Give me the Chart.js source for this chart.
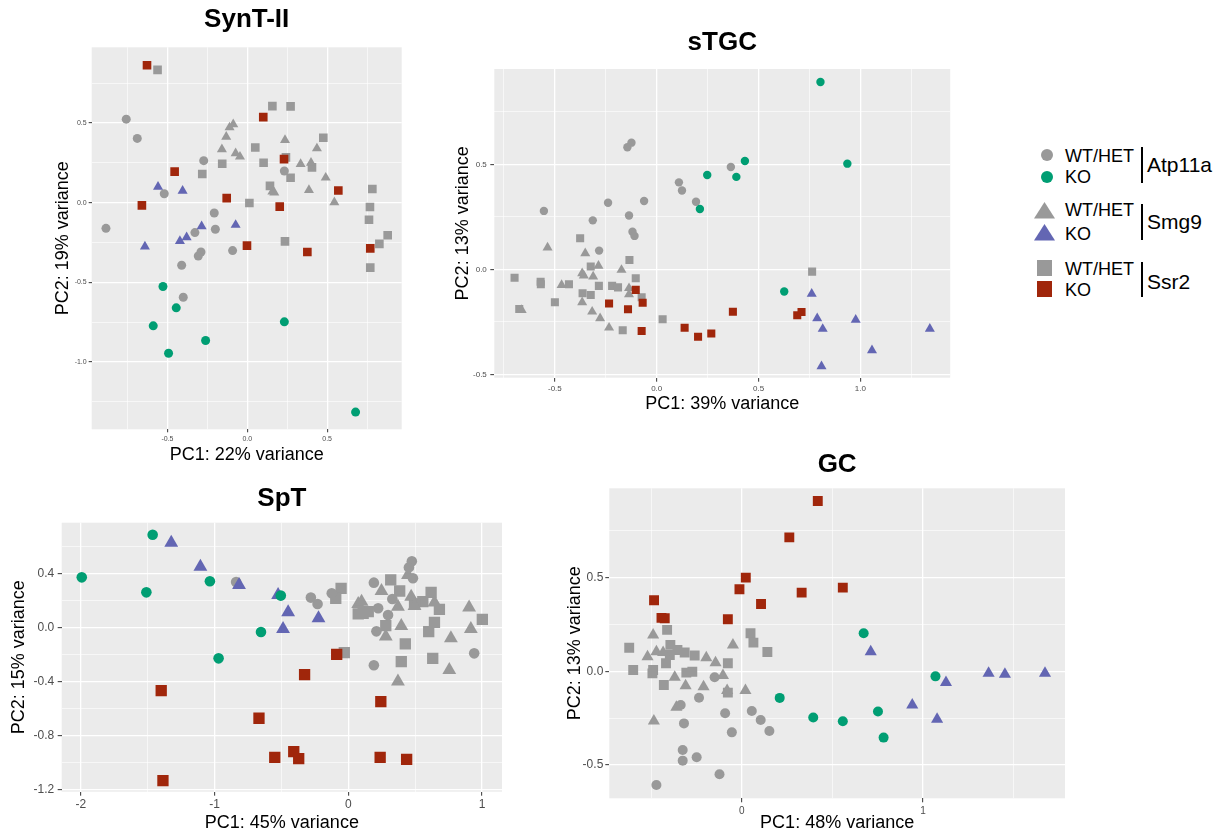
<!DOCTYPE html>
<html lang="en">
<head>
<meta charset="UTF-8">
<title>PCA by cell type</title>
<script src="https://cdn.jsdelivr.net/npm/chart.js@4.4.6/dist/chart.umd.min.js"></script>
<style>
  body { margin: 0; background: #fff; font-family: "Liberation Sans", Arial, sans-serif; }
  #page { position: relative; width: 1226px; height: 834px; overflow: hidden; }
  canvas { position: absolute; }
  .lg { position: absolute; }
  .dot { position: absolute; border-radius: 50%; }
  .sq { position: absolute; }
  .bar { position: absolute; width: 2px; background: #000; }
  .lt { position: absolute; font-size: 18px; line-height: 18px; color: #000; white-space: nowrap; }
  .gene { position: absolute; font-size: 21px; line-height: 21px; color: #000; white-space: nowrap; }
</style>
</head>
<body>
<div id="page">
  <canvas id="c1" width="360" height="470" style="left:48px;top:0px"></canvas>
  <canvas id="c2" width="508" height="419" style="left:448px;top:0px"></canvas>
  <canvas id="c3" width="506" height="364" style="left:4px;top:470px"></canvas>
  <canvas id="c4" width="512" height="394" style="left:560px;top:440px"></canvas>

  <!-- legend -->
  <span class="dot" style="left:1040.7px;top:149px;width:12px;height:12px;background:#999999"></span>
  <span class="dot" style="left:1040.7px;top:170.7px;width:12px;height:12px;background:#009e73"></span>
  <svg class="lg" style="left:1034px;top:201.7px" width="21" height="17"><polygon points="10.5,0 21,16.6 0,16.6" fill="#999999"/></svg>
  <svg class="lg" style="left:1034px;top:224.3px" width="21" height="17"><polygon points="10.5,0 21,16.6 0,16.6" fill="#6366b3"/></svg>
  <span class="sq" style="left:1036.7px;top:260px;width:15.6px;height:15.6px;background:#999999"></span>
  <span class="sq" style="left:1036.7px;top:281.4px;width:15.6px;height:15.6px;background:#a0260b"></span>

  <span class="lt" style="left:1065px;top:146.5px">WT/HET</span>
  <span class="lt" style="left:1065px;top:168px">KO</span>
  <span class="lt" style="left:1065px;top:200.8px">WT/HET</span>
  <span class="lt" style="left:1065px;top:224.8px">KO</span>
  <span class="lt" style="left:1065px;top:259.8px">WT/HET</span>
  <span class="lt" style="left:1065px;top:280.5px">KO</span>

  <span class="bar" style="left:1141px;top:146.7px;height:36.6px"></span>
  <span class="bar" style="left:1141px;top:204px;height:36px"></span>
  <span class="bar" style="left:1141px;top:261.7px;height:35px"></span>

  <span class="gene" style="left:1147px;top:154.2px">Atp11a</span>
  <span class="gene" style="left:1147px;top:211.2px">Smg9</span>
  <span class="gene" style="left:1147px;top:270.5px">Ssr2</span>
</div>

<script>
// ---- data: [PC1, PC2] per sample ----

// SynT-II
const syntWtCirc = [[-0.758,0.525],[-0.689,0.404],[-0.885,-0.161],[-0.520,0.056],[-0.273,0.264],[-0.207,-0.065],[-0.328,-0.188],[-0.200,-0.167],[-0.290,-0.310],[-0.307,-0.335],[-0.411,-0.393],[-0.401,-0.594],[-0.092,-0.301],[0.232,0.199]];
const syntKoCirc = [[-0.528,-0.527],[-0.445,-0.661],[-0.589,-0.774],[-0.261,-0.866],[-0.493,-0.946],[0.232,-0.749],[0.678,-1.316]];
const syntWtTri = [[-0.088,0.492],[-0.111,0.473],[-0.132,0.414],[-0.159,0.335],[-0.073,0.310],[-0.046,0.289],[0.236,0.393],[0.334,0.243],[0.399,0.251],[0.436,0.341],[0.491,0.157],[0.386,0.079],[0.545,0.002],[0.157,0.069],[0.169,0.063]];
const syntKoTri = [[-0.559,0.100],[-0.405,0.075],[-0.286,-0.149],[-0.073,-0.140],[-0.422,-0.241],[-0.380,-0.218],[-0.641,-0.276]];
const syntWtSq = [[-0.562,0.835],[0.157,0.607],[0.271,0.605],[0.050,0.347],[-0.157,0.245],[-0.282,0.180],[0.102,0.251],[0.242,0.285],[0.271,0.157],[0.405,0.222],[0.142,0.106],[0.476,0.408],[0.013,-0.002],[0.236,-0.243],[0.783,0.086],[0.768,-0.027],[0.762,-0.107],[0.827,-0.259],[0.879,-0.205],[0.770,-0.408]];
const syntKoSq = [[-0.628,0.864],[0.100,0.538],[0.230,0.274],[-0.455,0.195],[-0.129,0.029],[-0.660,-0.017],[0.203,-0.025],[0.570,0.077],[-0.002,-0.270],[0.376,-0.310],[0.770,-0.287]];

// sTGC
const stgcWtCirc = [[-0.124,0.603],[-0.144,0.581],[-0.554,0.278],[-0.239,0.317],[-0.314,0.233],[-0.136,0.256],[-0.119,0.179],[-0.109,0.159],[-0.062,0.325],[-0.283,0.089],[0.109,0.414],[0.124,0.375],[0.193,0.322],[0.364,0.487]];
const stgcKoCirc = [[0.804,0.892],[0.936,0.503],[0.433,0.516],[0.248,0.449],[0.391,0.440],[0.212,0.287],[0.626,-0.106]];
const stgcWtTri = [[-0.536,0.103],[-0.351,0.076],[-0.286,0.017],[-0.366,-0.019],[-0.358,-0.030],[-0.312,-0.035],[-0.467,-0.075],[-0.173,-0.003],[-0.136,-0.090],[-0.136,-0.119],[-0.366,-0.157],[-0.317,-0.202],[-0.278,-0.233],[-0.234,-0.278],[-0.663,-0.194]];
const stgcKoTri = [[0.761,-0.117],[0.788,-0.233],[0.815,-0.284],[0.977,-0.241],[1.341,-0.283],[1.057,-0.386],[0.809,-0.462]];
const stgcWtSq = [[-0.698,-0.040],[-0.570,-0.059],[-0.569,-0.071],[-0.431,-0.071],[-0.376,0.148],[-0.324,0.013],[-0.364,-0.114],[-0.324,-0.122],[-0.284,-0.079],[-0.500,-0.157],[-0.675,-0.189],[-0.219,-0.079],[-0.190,-0.086],[-0.134,0.044],[-0.103,-0.043],[-0.074,-0.133],[-0.167,-0.290],[0.029,-0.238],[0.763,-0.011]];
const stgcKoSq = [[-0.103,-0.098],[-0.234,-0.163],[-0.141,-0.190],[-0.069,-0.159],[-0.074,-0.294],[0.137,-0.278],[0.203,-0.321],[0.268,-0.306],[0.374,-0.202],[0.690,-0.219],[0.711,-0.203]];

// SpT
const sptWtCirc = [[-0.839,0.336],[-0.280,0.220],[-0.230,0.173],[-0.124,0.252],[0.191,0.331],[0.210,-0.030],[0.191,-0.281],[0.475,0.489],[0.453,0.444],[0.483,0.363],[0.329,0.210],[0.941,-0.193],[0.223,0.141],[0.297,0.091]];
const sptKoCirc = [[-1.993,0.370],[-1.463,0.686],[-1.510,0.259],[-1.035,0.341],[-0.505,0.235],[-0.653,-0.035],[-0.970,-0.230]];
const sptWtTri = [[0.074,0.173],[0.248,0.269],[0.280,-0.069],[0.396,0.010],[0.470,0.227],[0.371,0.153],[0.495,0.158],[0.644,0.183],[0.903,0.146],[0.916,-0.012],[0.767,-0.081],[0.755,-0.316],[0.371,-0.402],[0.446,0.388],[0.099,0.190]];
const sptKoTri = [[-1.324,0.627],[-1.106,0.449],[-0.817,0.314],[-0.525,0.240],[-0.450,0.111],[-0.223,0.067],[-0.488,-0.012]];
const sptWtSq = [[-0.054,0.289],[-0.094,0.215],[-0.030,-0.188],[0.317,0.351],[0.384,0.269],[0.074,0.099],[0.149,0.116],[0.280,0.012],[0.557,0.190],[0.619,0.259],[0.681,0.133],[0.644,0.037],[0.601,-0.032],[0.426,-0.123],[0.396,-0.254],[0.631,-0.230],[1.002,0.059],[0.111,0.104],[0.495,0.173]];
const sptKoSq = [[-1.399,-0.469],[-1.386,-1.136],[-0.668,-0.674],[-0.550,-0.963],[-0.408,-0.921],[-0.371,-0.973],[-0.327,-0.351],[-0.087,-0.200],[0.243,-0.551],[0.238,-0.963],[0.436,-0.978]];

// GC
const gcWtCirc = [[-0.150,-0.032],[-0.236,-0.141],[-0.337,-0.180],[-0.319,-0.278],[-0.092,-0.224],[-0.055,-0.326],[0.055,-0.212],[0.104,-0.260],[0.152,-0.319],[-0.326,-0.420],[-0.326,-0.477],[-0.249,-0.459],[-0.123,-0.550],[-0.471,-0.607]];
const gcKoCirc = [[0.672,0.203],[1.068,-0.027],[0.209,-0.142],[0.394,-0.247],[0.557,-0.267],[0.751,-0.215],[0.782,-0.354]];
const gcWtTri = [[-0.489,0.194],[-0.471,0.105],[-0.520,0.078],[-0.196,0.073],[-0.145,0.046],[-0.370,-0.032],[-0.310,-0.077],[-0.211,-0.082],[-0.104,-0.023],[-0.081,-0.103],[0.020,-0.103],[-0.049,0.141],[-0.361,-0.192],[-0.485,-0.265],[-0.434,0.100]];
const gcKoTri = [[0.711,0.105],[1.361,-0.011],[1.451,-0.016],[1.672,-0.011],[1.126,-0.060],[0.940,-0.180],[1.077,-0.256]];
const gcWtSq = [[-0.621,0.126],[-0.599,0.007],[-0.412,0.221],[-0.489,0.007],[-0.493,-0.011],[-0.394,0.141],[-0.355,0.114],[-0.418,0.043],[-0.315,0.100],[-0.260,0.084],[-0.430,-0.073],[-0.306,-0.007],[-0.273,-0.002],[-0.077,0.043],[-0.077,-0.114],[0.048,0.203],[0.064,0.153],[0.141,0.103],[-0.397,0.087]];
const gcKoSq = [[0.419,0.909],[0.262,0.715],[0.022,0.500],[-0.013,0.438],[0.330,0.420],[0.557,0.447],[0.106,0.359],[-0.077,0.278],[-0.484,0.379],[-0.443,0.285],[-0.425,0.283]];

// ---- styling ----
const FONT = '"Liberation Sans", Arial, sans-serif';
const GRAY = '#999999', GREEN = '#009e73', BLUE = '#6366b3', RED = '#a0260b';

const isMajor = (v, major) => Math.abs(v / major - Math.round(v / major)) < 1e-6;

// fill the panel grey like ggplot
const panelBg = {
  id: 'panelBg',
  beforeDraw(chart) {
    const { ctx, chartArea: a } = chart;
    ctx.save();
    ctx.fillStyle = '#ebebeb';
    ctx.fillRect(a.left, a.top, a.right - a.left, a.bottom - a.top);
    ctx.restore();
  }
};

function axis(a, horizontal) {
  return {
    type: 'linear',
    position: horizontal ? 'bottom' : 'left',
    min: a.min,
    max: a.max,
    afterFit: s => { if (horizontal) s.height = a.size; else s.width = a.size; },
    border: { display: false },
    grid: {
      color: '#ffffff',
      lineWidth: c => (c.tick && isMajor(c.tick.value, a.major)) ? 1.3 : 0.6,
      tickColor: c => (c.tick && isMajor(c.tick.value, a.major)) ? '#333333' : 'rgba(0,0,0,0)',
      tickWidth: 1,
      tickLength: a.tickLen
    },
    ticks: {
      stepSize: a.minor,
      includeBounds: false,
      autoSkip: false,
      maxRotation: 0,
      minRotation: 0,
      padding: a.pad,
      color: '#4d4d4d',
      font: { family: FONT, size: a.font },
      callback: v => isMajor(v, a.major) ? (Math.abs(v) < 1e-9 ? 0 : v).toFixed(a.dec) : ''
    },
    title: {
      display: true,
      text: a.title,
      color: '#000000',
      font: { family: FONT, size: 18 },
      padding: { top: 4, bottom: a.titlePadBottom }
    }
  };
}

function groups(wtC, koC, wtT, koT, wtS, koS, r) {
  const g = (pts, shape, color, rad, order) => ({
    data: pts.map(p => ({ x: p[0], y: p[1] })),
    pointStyle: shape,
    pointRadius: rad,
    pointHoverRadius: rad,
    pointBorderWidth: 0,
    backgroundColor: color,
    borderColor: color,
    order: order
  });
  return [
    g(wtC, 'circle', GRAY, r.circle, 2),
    g(wtT, 'triangle', GRAY, r.tri, 2),
    g(wtS, 'rect', GRAY, r.rect, 2),
    g(koC, 'circle', GREEN, r.circle, 1),
    g(koT, 'triangle', BLUE, r.tri, 1),
    g(koS, 'rect', RED, r.rect, 1)
  ];
}

function makePanel(id, p, datasets) {
  new Chart(document.getElementById(id), {
    type: 'scatter',
    data: { datasets: datasets },
    options: {
      responsive: false,
      animation: false,
      layout: { padding: { right: p.padRight } },
      plugins: {
        legend: { display: false },
        tooltip: { enabled: false },
        title: {
          display: true,
          text: p.title,
          fullSize: false,
          color: '#000000',
          font: { family: FONT, size: 26, weight: 'bold' },
          padding: { top: p.titleTop, bottom: p.titleBottom }
        }
      },
      scales: { x: axis(p.x, true), y: axis(p.y, false) }
    },
    plugins: [panelBg]
  });
}

makePanel('c1', {
  title: 'SynT-II', titleTop: 4.4, titleBottom: 11.7, padRight: 6.3,
  x: { min: -0.9743, max: 0.9668, minor: 0.25, major: 0.5, dec: 1, size: 40.7, tickLen: 3, pad: 2.2, font: 7, title: 'PC1: 22% variance', titlePadBottom: 4 },
  y: { min: -1.4243, max: 0.9767, minor: 0.25, major: 0.5, dec: 1, size: 43.7, tickLen: 3, pad: 2, font: 7, title: 'PC2: 19% variance', titlePadBottom: 4 }
}, groups(syntWtCirc, syntKoCirc, syntWtTri, syntKoTri, syntWtSq, syntKoSq, { circle: 4.5, tri: 5.8, rect: 6.1 }));

makePanel('c2', {
  title: 'sTGC', titleTop: 27.4, titleBottom: 10.4, padRight: 5,
  x: { min: -0.7975, max: 1.441, minor: 0.25, major: 0.5, dec: 1, size: 41.3, tickLen: 4, pad: 2.2, font: 8, title: 'PC1: 39% variance', titlePadBottom: 4 },
  y: { min: -0.5162, max: 0.9538, minor: 0.25, major: 0.5, dec: 1, size: 46.3, tickLen: 4, pad: 3.5, font: 8, title: 'PC2: 13% variance', titlePadBottom: 4 }
}, groups(stgcWtCirc, stgcKoCirc, stgcWtTri, stgcKoTri, stgcWtSq, stgcKoSq, { circle: 4.2, tri: 5.8, rect: 5.7 }));

makePanel('c3', {
  title: 'SpT', titleTop: 13.2, titleBottom: 8.3, padRight: 5,
  x: { min: -2.143, max: 1.149, minor: 0.5, major: 1, dec: 0, size: 42.3, tickLen: 4, pad: 2, font: 12, title: 'PC1: 45% variance', titlePadBottom: 0 },
  y: { min: -1.218, max: 0.775, minor: 0.2, major: 0.4, dec: 1, size: 57.7, tickLen: 4, pad: 3.5, font: 12, title: 'PC2: 15% variance', titlePadBottom: 4 }
}, groups(sptWtCirc, sptKoCirc, sptWtTri, sptKoTri, sptWtSq, sptKoSq, { circle: 5.3, tri: 8, rect: 8 }));

makePanel('c4', {
  title: 'GC', titleTop: 9.4, titleBottom: 7.7, padRight: 5.3,
  x: { min: -0.7308, max: 1.7824, minor: 0.5, major: 1, dec: 0, size: 35.7, tickLen: 4, pad: 2.7, font: 10, title: 'PC1: 48% variance', titlePadBottom: 0 },
  y: { min: -0.678, max: 0.977, minor: 0.25, major: 0.5, dec: 1, size: 49.3, tickLen: 4, pad: 2, font: 12, title: 'PC2: 13% variance', titlePadBottom: 4 }
}, groups(gcWtCirc, gcKoCirc, gcWtTri, gcKoTri, gcWtSq, gcKoSq, { circle: 5, tri: 7, rect: 7 }));
</script>
</body>
</html>
